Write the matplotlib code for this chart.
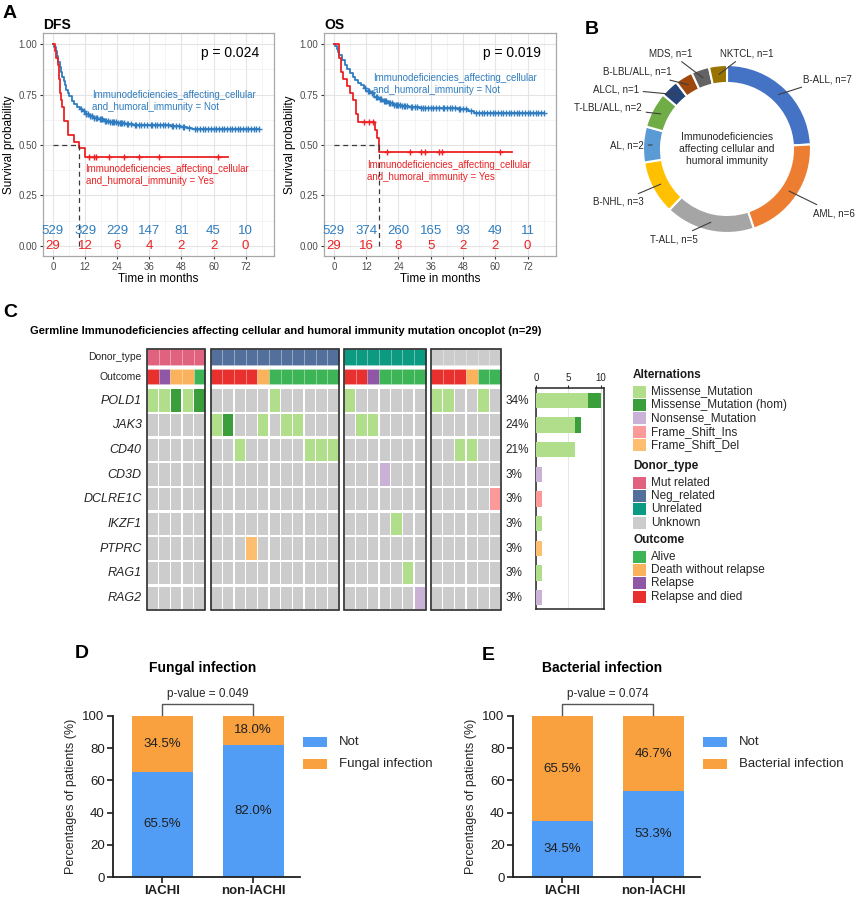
import matplotlib
matplotlib.use("Agg")
import matplotlib.pyplot as plt
import numpy as np
from matplotlib.patches import Rectangle

plt.rcParams["font.family"] = ["Liberation Sans", "DejaVu Sans"]

W, H = 864, 902
fig = plt.figure(figsize=(W / 100, H / 100), dpi=100)


def box(x0, y0, x1, y1):
    # axes from pixel box (top-left origin)
    return fig.add_axes([x0 / W, 1 - y1 / H, (x1 - x0) / W, (y1 - y0) / H])


def fx(px):
    return px / W


def fy(py):
    return 1 - py / H


# ---------------- A: survival data ----------------
km_ticks = [0, 12, 24, 36, 48, 60, 72]

dfs_not_t = [0, 0.5, 1.0, 1.5, 2.0, 2.5, 3.0, 3.5, 4.0, 4.5, 5.0, 5.5, 6.0, 7.0, 8.0, 9.0,
             10.0, 11.0, 12.0, 13.5, 15.0, 17.0, 19.0, 21.0, 24.0, 27.0, 30.0, 36.0, 44.0, 48.0, 50.0, 52.0]
dfs_not_s = [1.0, 0.985, 0.965, 0.94, 0.91, 0.885, 0.86, 0.835, 0.815, 0.795, 0.775, 0.76, 0.745, 0.72,
             0.705, 0.69, 0.678, 0.667, 0.655, 0.645, 0.635, 0.627, 0.62, 0.614, 0.608, 0.603, 0.600,
             0.598, 0.596, 0.59, 0.583, 0.577]
dfs_not_end = 77
dfs_not_cens = [10.5, 11.5, 12.5, 13, 14, 14.5, 15.5, 16, 16.5, 17.5, 18, 18.5, 19.5, 20, 20.5, 21.5,
                22, 22.5, 23, 23.5, 24.5, 25, 25.5, 26, 26.5, 27.5, 28, 29, 30.5, 31, 32, 33, 34, 35,
                36.5, 37, 38, 39, 40, 41, 42, 43, 44.5, 45, 46, 47, 48.5, 49, 51, 53, 54, 55, 56, 57,
                58, 59, 60, 61, 62, 63, 64, 65, 66, 67, 68, 69, 70, 71, 72, 73, 74, 75, 76, 77]
dfs_yes_t = [0, 0.8, 1.3, 1.8, 2.2, 2.6, 3.0, 3.3, 4.2, 5.5, 8.0, 9.6, 12.0]
dfs_yes_s = [1.0, 0.966, 0.931, 0.897, 0.828, 0.759, 0.724, 0.690, 0.621, 0.552, 0.517, 0.483, 0.443]
dfs_yes_end = 65.6
dfs_yes_cens = [13.4, 15.3, 16.1, 21.1, 26.7, 32.3, 39.8, 61.5]
dfs_risk_not = [529, 329, 229, 147, 81, 45, 10]
dfs_risk_yes = [29, 12, 6, 4, 2, 2, 0]

os_not_t = [0, 0.5, 1.0, 1.5, 2.0, 3.0, 4.0, 5.0, 6.0, 7.0, 8.0, 9.0, 10.0, 11.0, 12.0, 13.5, 15.0,
            16.5, 18.0, 20.0, 22.0, 25.0, 28.0, 32.0, 40.0, 46.0, 50.0, 52.0]
os_not_s = [1.0, 0.99, 0.975, 0.96, 0.945, 0.92, 0.895, 0.875, 0.855, 0.835, 0.82, 0.805, 0.795, 0.78,
            0.77, 0.756, 0.74, 0.727, 0.718, 0.708, 0.70, 0.692, 0.686, 0.683, 0.681, 0.678, 0.667, 0.657]
os_not_end = 78
os_not_cens = [11.5, 12.5, 13, 14, 15.5, 16, 17, 17.5, 18.5, 19, 19.5, 20.5, 21, 21.5, 22.5, 23, 23.5,
               24, 24.5, 25.5, 26, 26.5, 27, 28.5, 29, 30, 31, 32.5, 33, 34, 35, 36, 37, 38, 39, 40.5,
               41, 42, 43, 44, 45, 46.5, 47, 48, 49, 51, 53, 54, 55, 56, 57, 58, 59, 60, 61, 62, 63,
               64, 65, 66, 67, 68, 69, 70, 71, 72, 73, 74, 75, 76, 77, 78]
os_yes_t = [0, 1.8, 2.6, 3.3, 5.0, 5.8, 7.0, 8.2, 9.0, 15.2, 15.9, 16.9]
os_yes_s = [1.0, 0.931, 0.862, 0.828, 0.793, 0.759, 0.724, 0.655, 0.615, 0.574, 0.533, 0.464]
os_yes_end = 66.1
os_yes_cens = [11.1, 12.9, 14.4, 19.6, 28.4, 32.5, 34.0, 39.0, 40.3, 61.6]
os_risk_not = [529, 374, 260, 165, 93, 49, 11]
os_risk_yes = [29, 16, 8, 5, 2, 2, 0]

# ---------------- B: diagnoses ----------------
dx_labels = ["B-ALL", "AML", "T-ALL", "B-NHL", "AL", "T-LBL/ALL", "ALCL", "B-LBL/ALL", "MDS", "NKTCL"]
dx_counts = [7, 6, 5, 3, 2, 2, 1, 1, 1, 1]

# ---------------- C: oncoplot ----------------
genes = ["POLD1", "JAK3", "CD40", "CD3D", "DCLRE1C", "IKZF1", "PTPRC", "RAG1", "RAG2"]
group_names = ["Mut related", "Neg_related", "Unrelated", "Unknown"]
group_sizes = [5, 11, 7, 6]
# A=Alive, D=Death without relapse, P=Relapse, R=Relapse and died
outcome_codes = "RPDDA" + "RRRRDAAAAAA" + "RRPAAAA" + "RRRDAA"
# m=Missense, H=Missense hom, n=Nonsense, i=Frame_Shift_Ins, d=Frame_Shift_Del
mut_rows = {
    "POLD1":   "mmHmH" + ".....m....." + "m......" + "mm..m.",
    "JAK3":    "....." + "mH..m.mm..." + ".mm...." + "......",
    "CD40":    "....." + "..m.....mmm" + "......." + "..mm..",
    "CD3D":    "....." + "..........." + "...n..." + "......",
    "DCLRE1C": "....." + "..........." + "......." + ".....i",
    "IKZF1":   "....." + "..........." + "....m.." + "......",
    "PTPRC":   "....." + "...d......." + "......." + "......",
    "RAG1":    "....." + "..........." + ".....m." + "......",
    "RAG2":    "....." + "..........." + "......n" + "......",
}
alt_codes = ["m", "H", "n", "i", "d"]
alt_names = ["Missense_Mutation", "Missense_Mutation (hom)", "Nonsense_Mutation",
             "Frame_Shift_Ins", "Frame_Shift_Del"]
outcome_keys = ["A", "D", "P", "R"]
outcome_names = ["Alive", "Death without relapse", "Relapse", "Relapse and died"]

# ---------------- D / E ----------------
inf_groups = ["IACHI", "non-IACHI"]
fungal_not = [65.5, 82.0]
fungal_yes = [34.5, 18.0]
bact_not = [34.5, 53.3]
bact_yes = [65.5, 46.7]

# ---------------- colours ----------------
c_blue_km = "#2f7dc0"
c_red_km = "#ec2224"
dx_colors = ["#4472C4", "#ED7D31", "#A5A5A5", "#FFC000", "#5B9BD5", "#70AD47",
             "#264478", "#9E480E", "#636363", "#997300"]
alt_colors = ["#b0de8a", "#3a9f3a", "#cab2d6", "#fb9a99", "#fdbf6f"]
donor_colors = ["#e0627f", "#53709c", "#0c9a82", "#cccccc"]
outcome_colors = ["#3db455", "#fbb25c", "#8f57a6", "#e8302e"]
c_bar_blue = "#519df6"
c_bar_orange = "#f9a13f"


# ====================== panel A ======================
def step_value(t, s, x):
    return s[np.searchsorted(t, x, side="right") - 1]


def km_panel(ax, name, pval, nt, ns, nend, nc, yt, ys, yend, yc, rn, ry, lab_n, lab_y):
    ax.set_xlim(-3.7, 82.6)
    ax.set_ylim(-0.05, 1.055)
    ax.set_xticks(km_ticks)
    ax.set_xticks(np.arange(6, 84, 12), minor=True)
    ax.set_yticks([0, 0.25, 0.5, 0.75, 1.0])
    ax.set_yticklabels(["0.00", "0.25", "0.50", "0.75", "1.00"])
    ax.set_yticks([0.125, 0.375, 0.625, 0.875], minor=True)
    ax.grid(which="major", color="#e4e4e4", lw=0.8)
    ax.grid(which="minor", color="#f0f0f0", lw=0.5)
    ax.set_axisbelow(True)
    ax.tick_params(which="minor", length=0)
    ax.tick_params(which="major", length=2.5, width=0.8, color="#333333",
                   labelsize=7, labelcolor="#4d4d4d", pad=1.5)
    for sp in ax.spines.values():
        sp.set_color("#a8a8a8")
        sp.set_linewidth(0.9)

    for t, s, end, cens, col in [(nt, ns, nend, nc, c_blue_km), (yt, ys, yend, yc, c_red_km)]:
        t = np.array(t)
        s = np.array(s)
        ax.step(np.append(t, end), np.append(s, s[-1]), where="post", color=col, lw=1.3, zorder=3)
        cy = [step_value(t, s, c) for c in cens]
        ax.plot(cens, cy, ls="none", marker="+", ms=4.5, mew=1.0, color=col, zorder=4)

    # median survival for the "Yes" curve
    ys_a = np.array(ys)
    med = np.array(yt)[np.argmax(ys_a <= 0.5)]
    ax.plot([0, med], [0.5, 0.5], ls=(0, (4, 3)), color="#3a3a3a", lw=0.9, zorder=5)
    ax.plot([med, med], [0.5, 0.0], ls=(0, (4, 3)), color="#3a3a3a", lw=0.9, zorder=5)

    for tk, a, b in zip(km_ticks, rn, ry):
        ax.text(tk, 0.072, str(a), color=c_blue_km, ha="center", va="center", fontsize=9.5, zorder=6)
        ax.text(tk, 0.0, str(b), color=c_red_km, ha="center", va="center", fontsize=9.5, zorder=6)

    ax.text(lab_n[0], lab_n[1], "Immunodeficiencies_affecting_cellular\nand_humoral_immunity = Not",
            color=c_blue_km, fontsize=7, va="center", ha="left", linespacing=1.25)
    ax.text(lab_y[0], lab_y[1], "Immunodeficiencies_affecting_cellular\nand_humoral_immunity = Yes",
            color=c_red_km, fontsize=7, va="center", ha="left", linespacing=1.25)
    ax.text(77, 0.955, pval, fontsize=10, ha="right", va="center")
    ax.set_xlabel("Time in months", fontsize=8.5, labelpad=1)
    ax.set_ylabel("Survival probability", fontsize=8.5, labelpad=3)
    ax.set_title(name, loc="left", fontsize=10, fontweight="bold", pad=3)


ax_dfs = box(43, 33, 274, 256)
km_panel(ax_dfs, "DFS", "p = 0.024", dfs_not_t, dfs_not_s, dfs_not_end, dfs_not_cens,
         dfs_yes_t, dfs_yes_s, dfs_yes_end, dfs_yes_cens, dfs_risk_not, dfs_risk_yes,
         (14.7, 0.72), (12.2, 0.352))
ax_os = box(324, 33, 556, 256)
km_panel(ax_os, "OS", "p = 0.019", os_not_t, os_not_s, os_not_end, os_not_cens,
         os_yes_t, os_yes_s, os_yes_end, os_yes_cens, os_risk_not, os_risk_yes,
         (14.6, 0.803), (12.4, 0.372))

# ====================== panel B ======================
cx, cy, R = 727, 149, 84
ax_b = box(560, 40, 864, 262)
ax_b.pie(dx_counts, radius=R, startangle=90, counterclock=False, colors=dx_colors,
         wedgeprops=dict(width=18, edgecolor="white", linewidth=1.5))
ax_b.set_xlim(560 - cx, 864 - cx)
ax_b.set_ylim(cy - 262, cy - 40)
ax_b.set_aspect("equal")
ax_b.axis("off")

# label anchor points in image pixels
label_px = [(803, 79, "left"), (813, 213, "left"), (698, 239, "right"), (644, 202, "right"),
            (644, 146, "right"), (642, 108, "right"), (639, 89, "right"), (672, 72, "right"),
            (692, 53, "right"), (720, 53, "left")]
cum = np.cumsum([0] + dx_counts)
total = cum[-1]
for i, (lab, n) in enumerate(zip(dx_labels, dx_counts)):
    mid_cw = (cum[i] + cum[i + 1]) / 2 / total * 360
    ang = np.deg2rad(90 - mid_cw)
    rm = R - 9
    tx, ty, ha = label_px[i]
    ax_b.annotate(f"{lab}, n={n}", xy=(rm * np.cos(ang), rm * np.sin(ang)),
                  xytext=(tx - cx, cy - ty), ha=ha, va="center", fontsize=7, color="#262626",
                  arrowprops=dict(arrowstyle="-", color="#404040", lw=0.8, shrinkA=1, shrinkB=0))
ax_b.text(0, 0, "Immunodeficiencies\naffecting cellular and\nhumoral immunity", ha="center",
          va="center", fontsize=7.5, color="#262626", linespacing=1.2)

# ====================== panel C ======================
gap = 0.45
ax_c = box(147, 349, 501, 611)
n_cols = sum(group_sizes)
ax_c.set_xlim(0, n_cols + gap * (len(group_sizes) - 1))
ax_c.set_ylim(10.62, 0)
ax_c.axis("off")

col_x = []
col_group = []
for g, size in enumerate(group_sizes):
    start = sum(group_sizes[:g]) + g * gap
    for k in range(size):
        col_x.append(start + k)
        col_group.append(g)

gene_top = 1.63
for j, x in enumerate(col_x):
    g = col_group[j]
    ax_c.add_patch(Rectangle((x, 0.01), 1, 0.64, facecolor=donor_colors[g],
                             edgecolor=(1, 1, 1, 0.25), lw=0.4))
    oc = outcome_colors[outcome_keys.index(outcome_codes[j])]
    ax_c.add_patch(Rectangle((x, 0.82), 1, 0.61, facecolor=oc, edgecolor=(1, 1, 1, 0.25), lw=0.4))
    for i, gname in enumerate(genes):
        code = mut_rows[gname][j]
        colr = "#cccccc" if code == "." else alt_colors[alt_codes.index(code)]
        ax_c.add_patch(Rectangle((x + 0.06, gene_top + i), 0.88, 0.91, facecolor=colr, edgecolor="none"))

for g, size in enumerate(group_sizes):
    start = sum(group_sizes[:g]) + g * gap
    ax_c.add_patch(Rectangle((start, 0.0), size, 10.58, facecolor="none",
                             edgecolor="#2b2b2b", lw=1.2, clip_on=False, zorder=5))

ax_c.text(-0.45, 0.33, "Donor_type", ha="right", va="center", fontsize=7.5, color="#262626")
ax_c.text(-0.45, 1.12, "Outcome", ha="right", va="center", fontsize=7.5, color="#262626")
counts = []
for i, gname in enumerate(genes):
    row = mut_rows[gname]
    n_mut = sum(c != "." for c in row)
    counts.append({c: row.count(c) for c in alt_codes})
    ax_c.text(-0.45, gene_top + i + 0.46, gname, ha="right", va="center", fontsize=9,
              style="italic", color="#262626")
    ax_c.text(30.7, gene_top + i + 0.46, f"{round(100 * n_mut / n_cols)}%", ha="left",
              va="center", fontsize=8.5, color="#262626", clip_on=False)

ax_bar = box(536, 388, 604, 609)
ax_bar.set_xlim(0, 10.5)
ax_bar.set_ylim((609 - 349) / 24.67, (388 - 349) / 24.67)
for i, cnt in enumerate(counts):
    left = 0
    for c, colr in zip(alt_codes, alt_colors):
        if cnt[c]:
            ax_bar.barh(gene_top + i + 0.455, cnt[c], left=left, height=0.62, color=colr, zorder=3)
            left += cnt[c]
ax_bar.xaxis.tick_top()
ax_bar.set_xticks([0, 5, 10])
ax_bar.set_yticks([])
ax_bar.tick_params(axis="x", length=2.5, width=0.8, labelsize=7, pad=1, colors="#262626")
ax_bar.grid(axis="x", color="#e6e6e6", lw=0.7)
ax_bar.set_axisbelow(True)
for sp in ax_bar.spines.values():
    sp.set_linewidth(1.1)
    sp.set_color("#262626")


def legend_block(x, title_y, title, names, colors):
    fig.text(fx(x), fy(title_y), title, fontsize=8.5, fontweight="bold", va="center", color="#1a1a1a")
    for i, (lab, colr) in enumerate(zip(names, colors)):
        yc = title_y + 16.5 + i * 13.4
        fig.add_artist(Rectangle((fx(x), fy(yc + 6)), 13 / W, 12 / H, transform=fig.transFigure,
                                 facecolor=colr, edgecolor="none"))
        fig.text(fx(x + 18), fy(yc), lab, fontsize=8.5, va="center", color="#262626")


legend_block(633, 375, "Alternations", alt_names, alt_colors)
legend_block(633, 466, "Donor_type", group_names, donor_colors)
legend_block(633, 540, "Outcome", outcome_names, outcome_colors)

fig.text(fx(30), fy(331), "Germline Immunodeficiencies affecting cellular and humoral immunity "
         "mutation oncoplot (n=29)", fontsize=8, fontweight="bold", va="center")


# ====================== panels D / E ======================
def infection_panel(ax, title, pval, not_vals, yes_vals, yes_label, leg_x):
    x = np.arange(len(inf_groups))
    ax.bar(x, not_vals, width=0.67, color=c_bar_blue)
    ax.bar(x, yes_vals, bottom=not_vals, width=0.67, color=c_bar_orange)
    for xi, a, b in zip(x, not_vals, yes_vals):
        ax.text(xi, a / 2, f"{a:.1f}%", ha="center", va="center", fontsize=9.5, color="#1f1f1f")
        ax.text(xi, a + b / 2, f"{b:.1f}%", ha="center", va="center", fontsize=9.5, color="#1f1f1f")
    ax.set_xlim(-0.54, 1.515)
    ax.set_ylim(0, 100)
    ax.set_yticks(np.arange(0, 101, 20))
    ax.set_xticks(x)
    ax.set_xticklabels(inf_groups, fontweight="bold")
    ax.tick_params(length=4, width=1.2, labelsize=9.5, pad=2, colors="#1f1f1f")
    for side in ["top", "right"]:
        ax.spines[side].set_visible(False)
    for side in ["left", "bottom"]:
        ax.spines[side].set_linewidth(1.3)
        ax.spines[side].set_color("#1f1f1f")
    ax.set_ylabel("Percentages of patients (%)", fontsize=9, labelpad=4, color="#262626")
    ax.plot([0, 0, 1, 1], [100.6, 107.5, 107.5, 100.6], color="#555555", lw=1.0, clip_on=False)
    ax.text(0.5, 113.5, pval, ha="center", va="center", fontsize=8.5, color="#262626")
    ax.text(0.44, 130, title, ha="center", va="center", fontsize=10, fontweight="bold")
    for k, (lab, colr) in enumerate([("Not", c_bar_blue), (yes_label, c_bar_orange)]):
        yc = 742 + k * 22
        fig.add_artist(Rectangle((fx(leg_x), fy(yc + 4.7)), 24 / W, 9.4 / H, transform=fig.transFigure,
                                 facecolor=colr, edgecolor="none"))
        fig.text(fx(leg_x + 36), fy(yc), lab, fontsize=9.5, va="center", color="#262626")


ax_d = box(113, 716, 300, 877)
infection_panel(ax_d, "Fungal infection", "p-value = 0.049", fungal_not, fungal_yes,
                "Fungal infection", 303)
ax_e = box(513, 716, 700, 877)
infection_panel(ax_e, "Bacterial infection", "p-value = 0.074", bact_not, bact_yes,
                "Bacterial infection", 703)

# panel letters
for letter, px, py in [("A", 10, 13), ("B", 592, 29), ("C", 10, 313), ("D", 82, 653), ("E", 488, 655)]:
    fig.text(fx(px), fy(py), letter, fontsize=14, fontweight="bold", ha="center", va="center")

fig.savefig("out.png", dpi=100)
